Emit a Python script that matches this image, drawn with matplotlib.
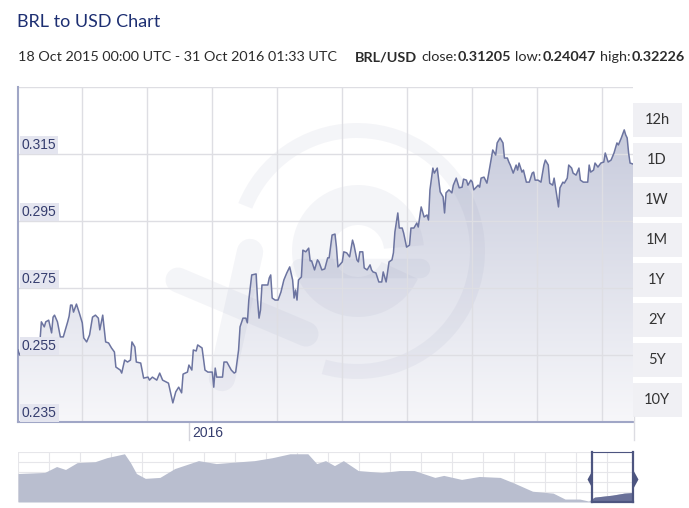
import numpy as np
import pandas as pd
import matplotlib
matplotlib.use("Agg")
import matplotlib.pyplot as plt
import matplotlib.dates as mdates
import matplotlib.transforms as mtrans
from matplotlib.patches import Rectangle, Polygon, Wedge
from matplotlib.colors import LinearSegmentedColormap

# BRL/USD rate, days counted from 2015-09-06
start = pd.Timestamp("2015-09-06")
end = pd.Timestamp("2016-10-31")
days = [0, 1, 3, 5, 8, 12, 15, 16, 18, 19,
        21, 23, 24, 25, 27, 29, 31, 34, 35, 36,
        37, 38, 40, 42, 44, 45, 47, 49, 51, 53,
        55, 56, 58, 60, 62, 64, 66, 67, 70, 71,
        73, 75, 77, 78, 80, 81, 84, 86, 89, 90,
        92, 95, 97, 99, 103, 106, 108, 110, 112, 113,
        116, 117, 119, 120, 122, 123, 126, 128, 130, 133,
        134, 135, 136, 140, 141, 143, 146, 148, 149, 151,
        152, 154, 156, 157, 158, 160, 163, 164, 165, 166,
        167, 171, 172, 173, 174, 176, 178, 180, 182, 184,
        186, 188, 189, 190, 191, 192, 194, 195, 197, 199,
        200, 201, 203, 205, 206, 208, 210, 212, 213, 215,
        217, 218, 219, 222, 223, 225, 227, 229, 230, 232,
        233, 234, 236, 237, 239, 241, 242, 243, 245, 247,
        249, 250, 252, 254, 256, 257, 258, 260, 261, 263,
        264, 266, 268, 269, 271, 273, 274, 276, 278, 280,
        281, 282, 284, 285, 287, 289, 291, 292, 293, 295,
        297, 298, 300, 302, 304, 305, 307, 308, 310, 311,
        312, 315, 316, 317, 319, 321, 322, 324, 325,
        327, 328, 330, 332, 333, 335, 336, 337, 339, 341,
        342, 343, 345, 346, 348, 350, 352, 353, 354, 356,
        358, 360, 361, 363, 364, 366, 367, 369, 370, 371,
        373, 374, 376, 377, 379, 380, 382, 384, 385, 387,
        390, 391, 392, 394, 395, 397, 399, 401, 402, 404,
        406, 408, 410, 411, 413, 415, 416, 417, 418, 419, 421]
rates = [0.2565, 0.2550, 0.2565, 0.2571, 0.2574, 0.2580, 0.2589, 0.2649, 0.2634, 0.2649,
         0.2654, 0.2616, 0.2663, 0.2669, 0.2649, 0.2604, 0.2604, 0.2649, 0.2666, 0.2699,
         0.2699, 0.2678, 0.2702, 0.2675, 0.2646, 0.2601, 0.2589, 0.2610, 0.2663, 0.2669,
         0.2660, 0.2625, 0.2669, 0.2589, 0.2586, 0.2571, 0.2559, 0.2514, 0.2505, 0.2496,
         0.2535, 0.2529, 0.2535, 0.2589, 0.2574, 0.2529, 0.2526, 0.2481, 0.2484, 0.2475,
         0.2484, 0.2475, 0.2496, 0.2475, 0.2466, 0.2407, 0.2440, 0.2454, 0.2437, 0.2493,
         0.2499, 0.2520, 0.2505, 0.2565, 0.2562, 0.2580, 0.2571, 0.2505, 0.2499, 0.2499,
         0.2454, 0.2511, 0.2484, 0.2484, 0.2529, 0.2529, 0.2505, 0.2496, 0.2499, 0.2565,
         0.2634, 0.2660, 0.2660, 0.2646, 0.2714, 0.2789, 0.2792, 0.2714, 0.2660, 0.2684,
         0.2759, 0.2759, 0.2780, 0.2789, 0.2720, 0.2714, 0.2714, 0.2738, 0.2774, 0.2795,
         0.2813, 0.2774, 0.2720, 0.2744, 0.2714, 0.2774, 0.2783, 0.2863, 0.2858, 0.2869,
         0.2831, 0.2831, 0.2804, 0.2834, 0.2828, 0.2804, 0.2807, 0.2840, 0.2840, 0.2908,
         0.2911, 0.2872, 0.2813, 0.2828, 0.2858, 0.2855, 0.2843, 0.2893, 0.2878, 0.2834,
         0.2828, 0.2858, 0.2858, 0.2810, 0.2804, 0.2819, 0.2804, 0.2798, 0.2795, 0.2768,
         0.2768, 0.2798, 0.2768, 0.2828, 0.2834, 0.2855, 0.2917, 0.2974, 0.2929, 0.2929,
         0.2914, 0.2872, 0.2878, 0.2929, 0.2929, 0.2944, 0.2932, 0.2992, 0.2962, 0.2968,
         0.2953, 0.3043, 0.3108, 0.3093, 0.3108, 0.3037, 0.3022, 0.2974, 0.3034, 0.3043,
         0.3034, 0.3057, 0.3078, 0.3049, 0.3051, 0.3075, 0.3072, 0.3057, 0.3072, 0.3066,
         0.3043, 0.3057, 0.3051, 0.3078, 0.3081, 0.3063, 0.3087, 0.3138, 0.3162,
         0.3147, 0.3183, 0.3198, 0.3183, 0.3138, 0.3138, 0.3126, 0.3117, 0.3093, 0.3117,
         0.3102, 0.3123, 0.3096, 0.3102, 0.3066, 0.3066, 0.3093, 0.3096, 0.3072, 0.3072,
         0.3066, 0.3117, 0.3132, 0.3117, 0.3063, 0.3057, 0.3078, 0.3022, 0.2992, 0.3049,
         0.3066, 0.3063, 0.3078, 0.3117, 0.3108, 0.3093, 0.3087, 0.3108, 0.3072, 0.3066,
         0.3066, 0.3117, 0.3096, 0.3102, 0.3123, 0.3111, 0.3123, 0.3126, 0.3153, 0.3126,
         0.3132, 0.3153, 0.3183, 0.3177, 0.3198, 0.3222, 0.3207, 0.3198, 0.3153, 0.3123, 0.3120]

y_ticks = [0.235, 0.255, 0.275, 0.295, 0.315]
buttons = ["12h", "1D", "1W", "1M", "1Y", "2Y", "5Y", "10Y"]

# long-range navigator series
nav_dates = ["1999-07", "2000-04", "2000-08", "2000-11", "2001-03", "2001-09", "2002-01",
             "2002-07", "2002-09", "2002-11", "2003-02", "2003-07", "2003-12", "2004-08",
             "2005-02", "2005-06", "2006-03", "2006-09", "2007-03", "2007-09", "2007-12",
             "2008-03", "2008-06", "2008-09", "2009-02", "2009-10", "2010-04", "2010-09",
             "2011-04", "2011-07", "2012-01", "2012-07", "2013-02", "2013-07", "2014-01",
             "2014-08", "2014-12", "2015-05", "2015-08", "2015-10", "2016-04", "2016-08",
             "2016-10-31"]
nav_rates = [0.473, 0.482, 0.532, 0.507, 0.565, 0.573, 0.607,
             0.640, 0.565, 0.473, 0.432, 0.440, 0.515, 0.582,
             0.557, 0.565, 0.582, 0.607, 0.640, 0.640, 0.557,
             0.582, 0.540, 0.582, 0.498, 0.482, 0.498, 0.498,
             0.440, 0.457, 0.423, 0.448, 0.440, 0.390, 0.323,
             0.307, 0.257, 0.257, 0.240, 0.273, 0.290, 0.307,
             0.312]

W, H = 689, 508


def fx(px):
    return px / W


def fy(py):
    return 1 - py / H


fig = plt.figure(figsize=(W / 100, H / 100), dpi=100)
# pixel coordinates, y measured upward from the bottom edge
pix = mtrans.Affine2D().scale(1 / W, 1 / H) + fig.transFigure

# ---- main chart ----
ax = fig.add_axes([fx(18), fy(422), 615 / W, 335 / H])
dates = start + pd.to_timedelta(days, unit="D")
x = mdates.date2num(dates)
x0, x1 = mdates.date2num(start), mdates.date2num(end)
ax.set_xlim(x0, x1)
ax.set_ylim(0.235, 0.335)

grad = np.linspace(0, 1, 256).reshape(-1, 1)
cmap = LinearSegmentedColormap.from_list("fillgrad", ["#f7f7fa", "#c1c5d8"])
im = ax.imshow(grad, extent=[x0, x1, 0.235, 0.335], origin="lower", aspect="auto",
               cmap=cmap, zorder=1)
poly = Polygon(np.column_stack([np.r_[x[0], x, x[-1]], np.r_[0.235, rates, 0.235]]),
               closed=True, facecolor="none", edgecolor="none")
ax.add_patch(poly)
im.set_clip_path(poly)

# faint "xe" watermark
wm = dict(color="#8e94b6", alpha=0.09, lw=0, zorder=1.5)
ax.add_patch(Wedge((357, H - 251), 128, -106, 158, width=15, transform=pix, **wm))
ax.add_patch(Wedge((358, H - 251), 66, 5, 335, width=40, transform=pix, **wm))
ax.plot([300, 420], [H - 268, H - 268], transform=pix, color="#8e94b6", alpha=0.09,
        lw=14, solid_capstyle="round", zorder=1.5)
ax.plot([178, 306], [H - 280, H - 334], transform=pix, color="#8e94b6", alpha=0.09,
        lw=18, solid_capstyle="round", zorder=1.5)
ax.plot([250, 222], [H - 252, H - 378], transform=pix, color="#8e94b6", alpha=0.09,
        lw=19, solid_capstyle="round", zorder=1.5)

ax.plot(x, rates, color="#6c74a0", lw=1.1, zorder=3)

for v in [0.255, 0.275, 0.295, 0.315, 0.335]:
    ax.axhline(v, color="#dedee3", lw=1, zorder=2)
for k in range(9):
    f = (64 + 65 * k) / 615
    ax.plot([f, f], [0, 1], transform=ax.transAxes, color="#dedee3", lw=1, zorder=2)

for s in ["top", "right"]:
    ax.spines[s].set_visible(False)
for s in ["left", "bottom"]:
    ax.spines[s].set_color("#a0a6c6")
    ax.spines[s].set_linewidth(1.5)
ax.set_xticks([])
ax.set_yticks([])

ylab = mtrans.blended_transform_factory(ax.transAxes, ax.transData)
for v in y_ticks:
    ax.text(0.006, v + 0.0005, f"{v:.3f}", transform=ylab, ha="left", va="bottom",
            fontsize=10, color="#353d6e", family="Liberation Sans", zorder=5,
            bbox=dict(boxstyle="square,pad=0.15", fc="#e4e5ef", ec="none"))

xlab = mtrans.blended_transform_factory(ax.transData, ax.transAxes)
x2016 = mdates.date2num(pd.Timestamp("2016-01-01"))
ax.plot([x2016, x2016], [0, -0.055], transform=xlab, color="#d4d4dc", lw=1, clip_on=False)
ax.text(x2016 + 2, -0.033, "2016", transform=xlab, ha="left", va="center",
        fontsize=10, color="#353d6e", family="Liberation Sans")

# ---- range buttons ----
for i, b in enumerate(buttons):
    top = 103 + 40 * i
    fig.patches.append(Rectangle((fx(633), fy(top + 34)), 49 / W, 34 / H,
                                 transform=fig.transFigure, fc="#f0f0f4", ec="none"))
    fig.text(fx(657), fy(top + 17), b, ha="center", va="center", fontsize=10.5,
             color="#333333", family="Lato")
fig.add_artist(plt.Line2D([fx(633.5), fx(633.5)], [fy(417), fy(440)],
                          transform=fig.transFigure, color="#dcdce2", lw=1))

# ---- title and header line ----
fig.text(fx(17), fy(22), "BRL to USD Chart", fontsize=13, color="#1d2f72",
         family="Lato", va="center")

segments = [("18 Oct 2015 00:00 UTC - 31 Oct 2016 01:33 UTC", "normal", 18),
            ("BRL/USD", "bold", 4), ("close:", "normal", 1), ("0.31205", "bold", 4),
            ("low:", "normal", 1), ("0.24047", "bold", 4), ("high:", "normal", 1),
            ("0.32226", "bold", 0)]
renderer = fig.canvas.get_renderer()
xpos = 18
for txt, wt, gap in segments:
    t = fig.text(fx(xpos), fy(57), txt, fontsize=10.4, fontweight=wt, color="#2b2b2b",
                 family="Lato", va="center", ha="left")
    xpos += t.get_window_extent(renderer).width + gap

# ---- navigator ----
nav = fig.add_axes([fx(18), fy(502), 615 / W, 50 / H])
nd = mdates.date2num(pd.to_datetime(nav_dates, format="mixed"))
nav.set_xlim(nd[0], nd[-1])
nav.set_ylim(0.232, 0.655)
for g in np.linspace(0.232, 0.655, 6)[1:]:
    nav.axhline(g, color="#e6e6ea", lw=0.8, zorder=0)
for f in np.arange(0, 1.0, 31 / 615):
    nav.plot([f, f], [0, 1], transform=nav.transAxes, color="#e6e6ea", lw=0.8, zorder=0)
nav.fill_between(nd, nav_rates, 0.232, color="#b9becf", lw=0, zorder=1)
dark = nav.fill_between(nd, nav_rates, 0.232, color="#6a7199", lw=0, zorder=2)
win = Rectangle((x0, 0.2), x1 - x0, 0.5, transform=nav.transData, fc="none", ec="none")
nav.add_patch(win)
dark.set_clip_path(win)
left_tab = [(0, -1), (-0.55, 0), (0, 1), (0, -1)]
right_tab = [(0, -1), (0.55, 0), (0, 1), (0, -1)]
for xe, tab in [(x0, left_tab), (x1, right_tab)]:
    nav.plot([xe, xe], [0.232, 0.655], color="#4d5580", lw=1.6, zorder=3, clip_on=False)
    nav.plot([xe], [0.427], marker=tab, ms=13, color="#4d5580", mew=0, zorder=4,
             clip_on=False)
nav.plot([x0, x1], [0.655, 0.655], color="#4d5580", lw=0.8, zorder=3, clip_on=False)
nav.plot([x0, x1], [0.232, 0.232], color="#4d5580", lw=1.6, zorder=3, clip_on=False)
for s in nav.spines.values():
    s.set_visible(False)
nav.set_xticks([])
nav.set_yticks([])

fig.savefig("out.png", dpi=100)
